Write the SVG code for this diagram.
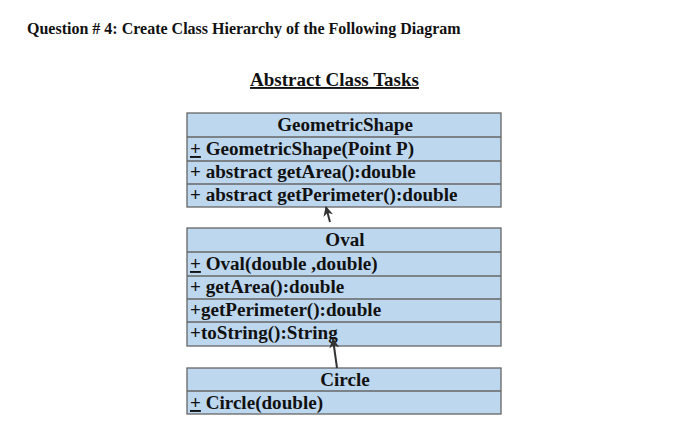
<svg xmlns="http://www.w3.org/2000/svg" width="700" height="426" viewBox="0 0 700 426">
<defs>
<style>
.t{font-family:"Liberation Serif","Times New Roman",serif;font-weight:bold;fill:#111;}
.m{font-size:19.1px;}
.box{fill:#bdd7ee;stroke:#666;stroke-width:1.3;}
.ln{stroke:#666;stroke-width:1.3;}
.con{stroke:#333;stroke-width:2;fill:none;}
</style>
<marker id="ah" viewBox="0 0 10 10" refX="9" refY="5" markerWidth="5" markerHeight="5" orient="auto">
<path d="M0,0 L10,5 L0,10 L3,5 Z" fill="#333"/>
</marker>
</defs>
<rect width="700" height="426" fill="#fff"/>
<text class="t" x="27" y="34" font-size="16">Question # 4: Create Class Hierarchy of the Following Diagram</text>
<text class="t" x="250" y="86" font-size="19" fill="#222" text-decoration="underline">Abstract Class Tasks</text>
<g id="geometricshape">
<rect class="box" x="187" y="113" width="314" height="94"/>
<line class="ln" x1="187" y1="137" x2="501" y2="137"/>
<line class="ln" x1="187" y1="161" x2="501" y2="161"/>
<line class="ln" x1="187" y1="184" x2="501" y2="184"/>
<text class="t m" x="345" y="131" text-anchor="middle">GeometricShape</text>
<text class="t m" x="190" y="155"><tspan text-decoration="underline">+</tspan> GeometricShape(Point P)</text>
<text class="t m" x="190" y="178">+ abstract getArea():double</text>
<text class="t m" x="190" y="201">+ abstract getPerimeter():double</text>
</g>
<g id="oval">
<rect class="box" x="187" y="228" width="314" height="118"/>
<line class="ln" x1="187" y1="252" x2="501" y2="252"/>
<line class="ln" x1="187" y1="276" x2="501" y2="276"/>
<line class="ln" x1="187" y1="299" x2="501" y2="299"/>
<line class="ln" x1="187" y1="322" x2="501" y2="322"/>
<text class="t m" x="345" y="246" text-anchor="middle">Oval</text>
<text class="t m" x="190" y="270"><tspan text-decoration="underline">+</tspan> Oval(double ,double)</text>
<text class="t m" x="190" y="293">+ getArea():double</text>
<text class="t m" x="190" y="316">+getPerimeter():double</text>
<text class="t m" x="190" y="339">+toString():String</text>
</g>
<g id="circle">
<rect class="box" x="187" y="368" width="314" height="46"/>
<line class="ln" x1="187" y1="391" x2="501" y2="391"/>
<text class="t m" x="345" y="386" text-anchor="middle">Circle</text>
<text class="t m" x="190" y="409"><tspan text-decoration="underline">+</tspan> Circle(double)</text>
</g>
<g id="connectors">
<line class="con" x1="330" y1="222" x2="326" y2="207" marker-end="url(#ah)"/>
<line class="con" x1="337" y1="368" x2="333" y2="339" marker-end="url(#ah)"/>
</g>
</svg>
